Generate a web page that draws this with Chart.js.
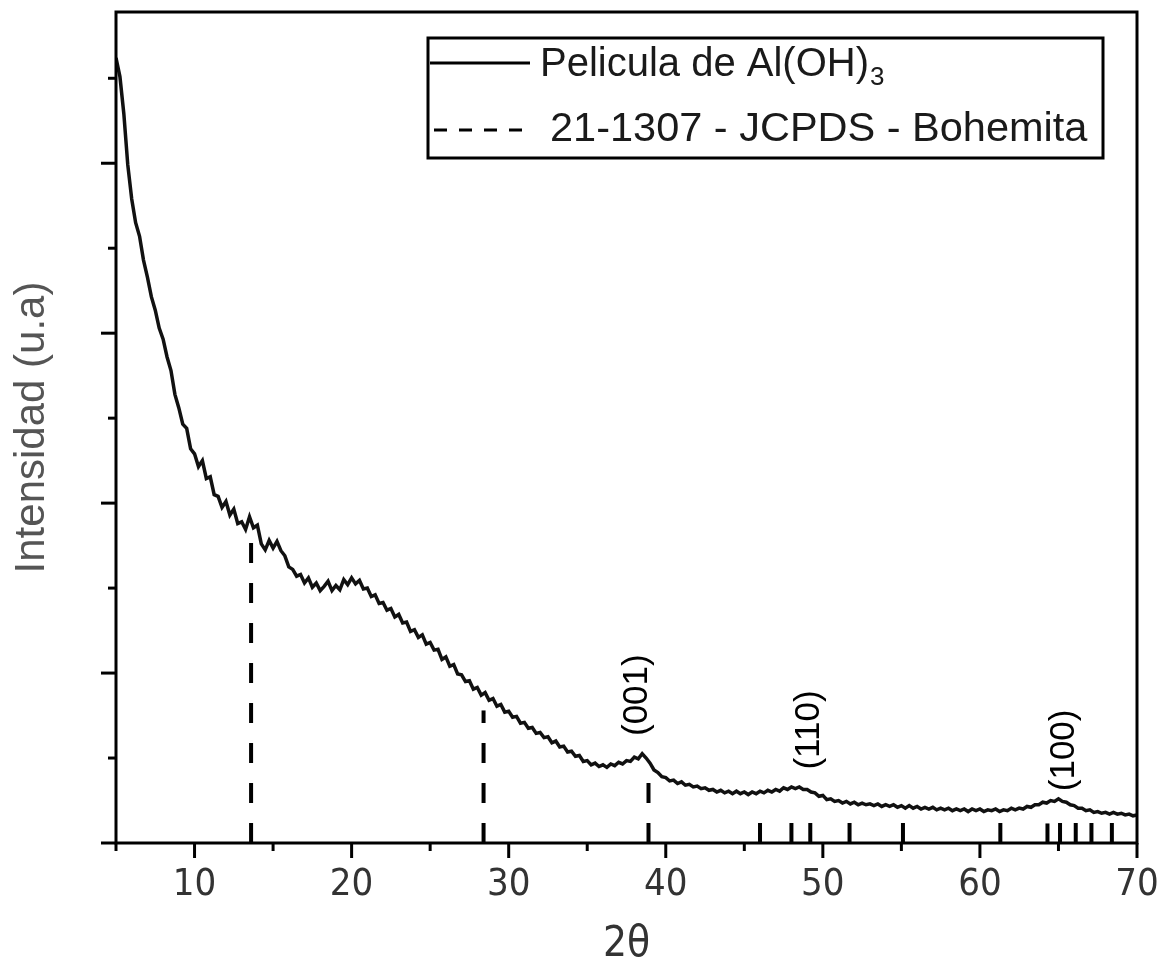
<!DOCTYPE html>
<html>
<head>
<meta charset="utf-8">
<script src="https://cdn.jsdelivr.net/npm/chart.js@4.4.0/dist/chart.umd.min.js"></script>
<style>
  html, body { margin: 0; padding: 0; background: #fff; }
  #wrap { width: 1163px; height: 970px; position: relative; }
</style>
</head>
<body>
<div id="wrap"><canvas id="xrd"></canvas></div>
<script>
// barrido 2θ: de 5 a 70 grados, un punto cada 0.25
const inicio2Theta = 5;
const paso2Theta = 0.25;

const intensidad = [
  9.24, 9.02, 8.58, 7.98, 7.58, 7.30, 7.14, 6.86,
  6.66, 6.43, 6.27, 6.06, 5.93, 5.72, 5.56, 5.28,
  5.12, 4.93, 4.88, 4.64, 4.58, 4.43, 4.50, 4.29,
  4.31, 4.10, 4.08, 3.95, 4.02, 3.86, 3.93, 3.76,
  3.78, 3.69, 3.84, 3.71, 3.74, 3.52, 3.45, 3.56,
  3.47, 3.55, 3.44, 3.38, 3.25, 3.22, 3.14, 3.16,
  3.06, 3.12, 3.01, 3.06, 2.97, 3.02, 3.08, 2.97,
  3.03, 2.98, 3.10, 3.04, 3.12, 3.05, 3.09, 2.99,
  3.00, 2.90, 2.92, 2.82, 2.83, 2.74, 2.76, 2.66,
  2.69, 2.59, 2.60, 2.49, 2.51, 2.42, 2.45, 2.34,
  2.36, 2.27, 2.28, 2.16, 2.19, 2.08, 2.10, 1.99,
  1.98, 1.90, 1.91, 1.81, 1.83, 1.74, 1.77, 1.68,
  1.70, 1.61, 1.63, 1.54, 1.55, 1.48, 1.49, 1.41,
  1.42, 1.35, 1.36, 1.29, 1.30, 1.24, 1.25, 1.18,
  1.20, 1.13, 1.14, 1.07, 1.08, 1.02, 1.03, 0.96,
  0.97, 0.92, 0.94, 0.90, 0.92, 0.89, 0.93, 0.91,
  0.95, 0.93, 0.97, 0.96, 1.01, 0.99, 1.05, 1.00,
  0.94, 0.86, 0.83, 0.78, 0.77, 0.73, 0.74, 0.70,
  0.72, 0.68, 0.69, 0.66, 0.67, 0.64, 0.65, 0.62,
  0.63, 0.60, 0.62, 0.59, 0.61, 0.58, 0.61, 0.58,
  0.60, 0.57, 0.60, 0.58, 0.61, 0.59, 0.62, 0.60,
  0.63, 0.61, 0.65, 0.63, 0.66, 0.64, 0.66, 0.63,
  0.63, 0.60, 0.59, 0.55, 0.56, 0.51, 0.52, 0.49,
  0.50, 0.47, 0.49, 0.46, 0.48, 0.45, 0.47, 0.45,
  0.46, 0.44, 0.46, 0.43, 0.45, 0.43, 0.45, 0.42,
  0.44, 0.41, 0.44, 0.41, 0.43, 0.40, 0.42, 0.40,
  0.42, 0.39, 0.41, 0.39, 0.41, 0.38, 0.40, 0.38,
  0.40, 0.37, 0.40, 0.38, 0.40, 0.37, 0.39, 0.38,
  0.40, 0.37, 0.39, 0.38, 0.41, 0.39, 0.41, 0.40,
  0.43, 0.42, 0.45, 0.45, 0.48, 0.47, 0.50, 0.49,
  0.52, 0.49, 0.48, 0.45, 0.44, 0.41, 0.41, 0.38,
  0.39, 0.36, 0.37, 0.35, 0.36, 0.34, 0.36, 0.34,
  0.35, 0.33, 0.34, 0.32, 0.33
];

// picos de referencia JCPDS 21-1307 (bohemita): posición y altura
const picosPos = [13.6, 28.4, 38.9, 46.0, 48.0, 49.2, 51.7, 55.1, 61.3, 64.3, 65.1, 66.1, 67.1, 68.4];
const picosAlt = [3.59, 1.56, 0.71, 0.25, 0.26, 0.24, 0.24, 0.25, 0.29, 0.23, 0.24, 0.24, 0.24, 0.24];

// índices de Miller anotados
const planos = ['(001)', '(110)', '(100)'];
const planosX = [38.2, 49.15, 65.35];
const planosY = [1.74, 1.33, 1.09];

const leyenda = ['Pelicula de Al(OH)', '21-1307 - JCPDS - Bohemita'];

const fuente = '"Liberation Sans", Arial, sans-serif';
const fuenteAngosta = '"Liberation Sans Narrow", "DejaVu Sans Condensed", "Liberation Sans", sans-serif';

const datasets = [];
picosPos.forEach((p, i) => {
  datasets.push({
    data: [{ x: p, y: 0 }, { x: p, y: picosAlt[i] }],
    borderColor: '#000',
    borderWidth: 4,
    borderDash: [20, 20],
    pointRadius: 0
  });
});
datasets.push({
  data: intensidad.map((v, i) => ({ x: inicio2Theta + i * paso2Theta, y: v })),
  borderColor: '#111',
  borderWidth: 3.5,
  pointRadius: 0,
  tension: 0
});

// marco, marcas de los ejes, leyenda y etiquetas de los planos
const marcoPlugin = {
  id: 'marco',
  afterDraw(chart) {
    const { ctx, chartArea: a, scales } = chart;
    const xs = scales.x, ys = scales.y;
    ctx.save();
    ctx.strokeStyle = '#000';
    ctx.lineWidth = 3;
    ctx.strokeRect(a.left, a.top, a.right - a.left, a.bottom - a.top);

    for (let v = 5; v <= 70; v += 5) {
      const px = xs.getPixelForValue(v);
      const largo = v % 10 === 0 ? 15 : 8;
      ctx.beginPath();
      ctx.moveTo(px, a.bottom);
      ctx.lineTo(px, a.bottom + largo);
      ctx.stroke();
    }
    for (let v = 0; v <= 9; v++) {
      const py = ys.getPixelForValue(v);
      const largo = v % 2 === 0 ? 15 : 8;
      ctx.beginPath();
      ctx.moveTo(a.left, py);
      ctx.lineTo(a.left - largo, py);
      ctx.stroke();
    }

    // leyenda
    ctx.lineWidth = 3;
    ctx.strokeRect(428, 38, 675, 120);
    ctx.beginPath();
    ctx.moveTo(430, 63);
    ctx.lineTo(530, 63);
    ctx.stroke();
    ctx.setLineDash([13, 12]);
    ctx.beginPath();
    ctx.moveTo(434, 130);
    ctx.lineTo(522, 130);
    ctx.stroke();
    ctx.setLineDash([]);
    ctx.fillStyle = '#1a1a1a';
    ctx.textBaseline = 'middle';
    ctx.textAlign = 'left';
    ctx.font = '40px ' + fuente;
    ctx.fillText(leyenda[0], 540, 65);
    const w = ctx.measureText(leyenda[0]).width;
    ctx.font = '26px ' + fuente;
    ctx.fillText('3', 540 + w + 1, 78);
    ctx.font = '41.5px ' + fuente;
    ctx.fillText(leyenda[1], 550, 130);

    // planos
    ctx.fillStyle = '#000';
    ctx.font = '35px ' + fuente;
    ctx.textAlign = 'center';
    planos.forEach((t, i) => {
      ctx.save();
      ctx.translate(xs.getPixelForValue(planosX[i]), ys.getPixelForValue(planosY[i]));
      ctx.rotate(-Math.PI / 2);
      ctx.fillText(t, 0, 0);
      ctx.restore();
    });
    ctx.restore();
  }
};

new Chart(document.getElementById('xrd'), {
  type: 'line',
  data: { datasets },
  options: {
    responsive: true,
    maintainAspectRatio: false,
    animation: false,
    layout: { padding: { top: 12, right: 26, left: 0, bottom: 0 } },
    plugins: { legend: { display: false }, tooltip: { enabled: false } },
    scales: {
      x: {
        type: 'linear',
        min: 5,
        max: 70,
        grid: { display: false, drawTicks: false },
        border: { display: false },
        ticks: {
          stepSize: 5,
          autoSkip: false,
          maxRotation: 0,
          padding: 19,
          color: '#333',
          font: { family: fuenteAngosta, size: 38 },
          callback: v => (v % 10 === 0 ? String(v) : '')
        },
        title: {
          display: true,
          text: '2θ',
          color: '#333',
          font: { family: fuenteAngosta, size: 42 },
          padding: { top: 0, bottom: 0 }
        },
        afterFit: s => {
          s.height = 127;
          s.paddingLeft = 0;
          s.paddingRight = 0;
        }
      },
      y: {
        min: 0,
        max: 9.78,
        grid: { display: false, drawTicks: false },
        border: { display: false },
        ticks: { display: false, stepSize: 1 },
        title: {
          display: true,
          text: 'Intensidad (u.a)',
          color: '#555',
          font: { family: fuente, size: 42 },
          padding: { top: 7, bottom: 0 }
        },
        afterFit: s => { s.width = 116; }
      }
    }
  },
  plugins: [marcoPlugin]
});
</script>
</body>
</html>
